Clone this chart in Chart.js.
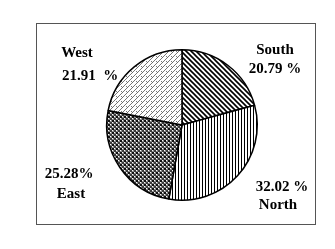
<!DOCTYPE html>
<html>
<head>
    <title>Pie Chart</title>
    <script src="https://cdn.jsdelivr.net/npm/chart.js"></script>
    <style>
        body { margin: 0; background: #fff; }
        #wrap { width: 335px; height: 249px; }
    </style>
</head>
<body>
    <div id="wrap"><canvas id="myChart"></canvas></div>

    <script>
        // data
        var regions = ["South", "North", "East", "West"];
        var shares = [20.79, 32.02, 25.28, 21.91];
        var shareTexts = ["20.79 %", "32.02 %", "25.28%", "21.91  %"];

        // label positions: [name x, name y, value x, value y]
        var labelPos = [
            [275, 50, 275, 69],
            [278, 205, 282, 187],
            [71, 194, 69, 174],
            [77, 53, 90, 76]
        ];

        function makeTile(w, h, draw) {
            var c = document.createElement("canvas");
            c.width = w; c.height = h;
            var g = c.getContext("2d");
            g.fillStyle = "#fff";
            g.fillRect(0, 0, w, h);
            draw(g);
            return document.createElement("canvas").getContext("2d").createPattern(c, "repeat");
        }

        var patterns = [
            // diagonal lines
            makeTile(5, 5, function (g) {
                g.strokeStyle = "#000"; g.lineWidth = 1.6;
                g.beginPath();
                g.moveTo(-1, -1); g.lineTo(6, 6);
                g.moveTo(-1, 4); g.lineTo(1, 6);
                g.moveTo(4, -1); g.lineTo(6, 1);
                g.stroke();
            }),
            // vertical lines
            makeTile(3, 3, function (g) {
                g.fillStyle = "#000";
                g.fillRect(1, 0, 1, 3);
            }),
            // dark checker weave
            makeTile(4, 4, function (g) {
                g.fillStyle = "#8a8a8a";
                g.fillRect(0, 0, 4, 4);
                g.fillStyle = "#111";
                g.fillRect(0, 0, 2, 2);
                g.fillStyle = "#3a3a3a";
                g.fillRect(2, 2, 2, 2);
                g.fillStyle = "#fff";
                g.fillRect(2, 0, 1, 1);
                g.fillRect(0, 2, 1, 1);
            }),
            // light diagonal hatch
            makeTile(5, 5, function (g) {
                g.strokeStyle = "#666"; g.lineWidth = 0.9;
                g.beginPath();
                g.moveTo(-1, 6); g.lineTo(6, -1);
                g.moveTo(-1, 1); g.lineTo(1, -1);
                g.moveTo(4, 6); g.lineTo(6, 4);
                g.moveTo(1, 1); g.lineTo(3, 3);
                g.stroke();
            })
        ];

        var framePlugin = {
            id: "frameAndLabels",
            beforeDraw: function (chart) {
                var ctx = chart.ctx;
                ctx.save();
                ctx.fillStyle = "#fff";
                ctx.fillRect(0, 0, chart.width, chart.height);
                ctx.strokeStyle = "#555";
                ctx.lineWidth = 1;
                ctx.strokeRect(36.5, 23.5, 279, 201);
                ctx.restore();
            },
            afterDraw: function (chart) {
                var ctx = chart.ctx;
                ctx.save();
                ctx.fillStyle = "#000";
                ctx.font = "bold 15px 'Liberation Serif', serif";
                ctx.textAlign = "center";
                ctx.textBaseline = "middle";
                regions.forEach(function (name, i) {
                    var p = labelPos[i];
                    ctx.fillText(name, p[0], p[1]);
                    ctx.fillText(shareTexts[i], p[2], p[3]);
                });
                ctx.restore();
            }
        };

        var ctx = document.getElementById("myChart").getContext("2d");
        new Chart(ctx, {
            type: "pie",
            data: {
                labels: regions,
                datasets: [{
                    data: shares,
                    backgroundColor: patterns,
                    borderColor: "#000",
                    borderWidth: 1.5
                }]
            },
            options: {
                responsive: true,
                maintainAspectRatio: false,
                animation: false,
                layout: {
                    padding: { left: 106, right: 77, top: 48, bottom: 47 }
                },
                plugins: {
                    legend: { display: false },
                    tooltip: { enabled: false }
                }
            },
            plugins: [framePlugin]
        });
    </script>
</body>
</html>
